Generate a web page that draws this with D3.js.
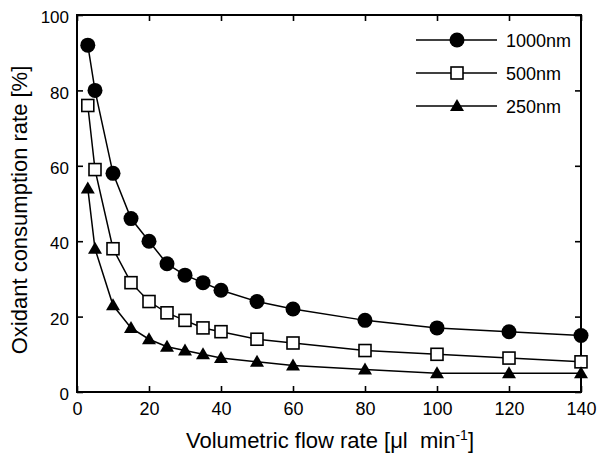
<!DOCTYPE html>
<html><head><meta charset="utf-8">
<script src="https://cdn.jsdelivr.net/npm/d3@7/dist/d3.min.js"></script>
<style>body{margin:0;background:#fff}svg{display:block}text{font-family:"Liberation Sans",Arial,sans-serif;fill:#000}</style>
</head><body>
<script>
const flowRates = [3, 5, 10, 15, 20, 25, 30, 35, 40, 50, 60, 80, 100, 120, 140];
const s1000 = [92, 80, 58, 46, 40, 34, 31, 29, 27, 24, 22, 19, 17, 16, 15];
const s500  = [76, 59, 38, 29, 24, 21, 19, 17, 16, 14, 13, 11, 10, 9, 8];
const s250  = [54, 38, 23, 17, 14, 12, 11, 10, 9, 8, 7, 6, 5, 5, 5];
const seriesNames = ["1000nm", "500nm", "250nm"];
const xTicks = [0, 20, 40, 60, 80, 100, 120, 140];
const yTicks = [0, 20, 40, 60, 80, 100];

const W = 597, H = 456;
const m = {l: 77, r: 16, t: 15, b: 64};
const svg = d3.select("body").append("svg").attr("width", W).attr("height", H);
const x = d3.scaleLinear().domain([0, 140]).range([m.l, W - m.r]);
const y = d3.scaleLinear().domain([0, 100]).range([H - m.b, m.t]);

const series = [
  {name: seriesNames[0], vals: s1000, shape: "circle"},
  {name: seriesNames[1], vals: s500, shape: "square"},
  {name: seriesNames[2], vals: s250, shape: "triangle"}
];

const tl = 6;
function styleAxis(g){
  g.select(".domain").remove();
  g.selectAll(".tick line").attr("stroke", "#000").attr("stroke-width", 1.6);
  g.selectAll(".tick text").style("font-size", "18px");
}
svg.append("g").attr("transform", `translate(0,${y(0)})`)
  .call(d3.axisBottom(x).tickValues(xTicks).tickSize(-tl).tickPadding(10)).call(styleAxis);
svg.append("g").attr("transform", `translate(0,${y(100)})`)
  .call(d3.axisTop(x).tickValues(xTicks).tickSize(-tl).tickFormat("")).call(styleAxis);
svg.append("g").attr("transform", `translate(${x(0)},0)`)
  .call(d3.axisLeft(y).tickValues(yTicks).tickSize(-tl).tickPadding(8)).call(styleAxis)
  .call(g => g.selectAll(".tick text").attr("dy", "0.45em").style("font-size", "17px"));
svg.append("g").attr("transform", `translate(${x(140)},0)`)
  .call(d3.axisRight(y).tickValues(yTicks).tickSize(-tl).tickFormat("")).call(styleAxis);
svg.append("rect").attr("x", x(0)).attr("y", y(100)).attr("width", x(140) - x(0)).attr("height", y(0) - y(100))
  .attr("fill", "none").attr("stroke", "#000").attr("stroke-width", 2);

const line = d3.line().x((d, i) => x(flowRates[i])).y(d => y(d));

function marker(g, shape, cx, cy){
  if (shape === "circle") g.append("circle").attr("cx", cx).attr("cy", cy).attr("r", 7.5).attr("fill", "#000");
  else if (shape === "square") g.append("rect").attr("x", cx - 6).attr("y", cy - 6).attr("width", 12).attr("height", 12)
      .attr("fill", "#fff").attr("stroke", "#000").attr("stroke-width", 1.6);
  else g.append("path").attr("d", `M${cx},${cy - 7}L${cx + 7},${cy + 5}L${cx - 7},${cy + 5}Z`).attr("fill", "#000");
}

series.forEach(s => {
  svg.append("path").datum(s.vals).attr("d", line).attr("fill", "none").attr("stroke", "#000").attr("stroke-width", 1.5);
  const g = svg.append("g");
  s.vals.forEach((v, i) => marker(g, s.shape, x(flowRates[i]), y(v)));
});

// legend
series.forEach((s, i) => {
  const ly = 40 + i * 33;
  svg.append("line").attr("x1", 416).attr("x2", 497).attr("y1", ly).attr("y2", ly).attr("stroke", "#000").attr("stroke-width", 1.5);
  marker(svg, s.shape, 457, ly);
  svg.append("text").attr("x", 506).attr("y", ly + 6.5).style("font-size", "18px").text(s.name);
});

// axis titles
const xt = svg.append("text").attr("x", 330).attr("y", 448).attr("text-anchor", "middle").style("font-size", "22px");
xt.append("tspan").text("Volumetric flow rate [μl\u00a0 min");
xt.append("tspan").attr("baseline-shift", "super").style("font-size", "14px").text("-1");
xt.append("tspan").text("]");
svg.append("text").attr("transform", "translate(27,210) rotate(-90)").attr("text-anchor", "middle")
  .style("font-size", "22px").text("Oxidant consumption rate [%]");
</script>
</body></html>
